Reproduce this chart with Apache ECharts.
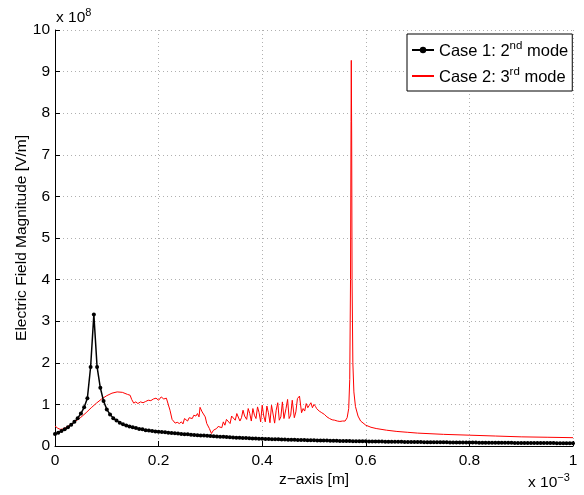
<!DOCTYPE html>
<html>
<head>
<meta charset="utf-8">
<script src="https://cdn.jsdelivr.net/npm/echarts@6/dist/echarts.min.js"></script>
<style>
    html, body { margin: 0; padding: 0; background: #fff; }
    #demoDiv { width: 584px; height: 495px; }
</style>
</head>
<body>
<div id="demoDiv"></div>
<script>
// x 轴单位 1e-3 m，y 轴单位 1e8 V/m
const xTicks = [0, 0.2, 0.4, 0.6, 0.8, 1];
const yTicks = [0, 1, 2, 3, 4, 5, 6, 7, 8, 9, 10];

// Case 1: 等间距采样 (步长 0.00625)
const blackStep = 0.00625;
const blackValues = [
    0.29, 0.32, 0.36, 0.40, 0.45, 0.51, 0.58, 0.67, 0.78, 0.93, 1.15, 1.90, 3.16,
    1.90, 1.40, 1.08, 0.88, 0.76, 0.67, 0.61, 0.56, 0.52, 0.49,
    0.47, 0.45, 0.43, 0.41, 0.40, 0.38, 0.37, 0.36, 0.35, 0.34,
    0.335, 0.33, 0.32, 0.31, 0.305, 0.30, 0.29, 0.285,
    0.28, 0.27, 0.265, 0.26, 0.255, 0.25, 0.245, 0.24,
    0.235, 0.23, 0.225, 0.22, 0.215, 0.21, 0.205, 0.20,
    0.197, 0.193, 0.19, 0.187, 0.183, 0.18, 0.177, 0.174,
    0.171, 0.168, 0.165, 0.163, 0.16, 0.158, 0.155, 0.153,
    0.151, 0.149, 0.147, 0.145, 0.143, 0.141, 0.139, 0.137,
    0.135, 0.133, 0.131, 0.13, 0.128, 0.126, 0.125, 0.123,
    0.122, 0.12, 0.119, 0.117, 0.116, 0.115, 0.113, 0.112,
    0.111, 0.11, 0.108, 0.107, 0.106, 0.105, 0.104, 0.103,
    0.102, 0.101, 0.1, 0.099, 0.098, 0.097, 0.096, 0.095,
    0.094, 0.093, 0.093, 0.092, 0.091, 0.09, 0.09, 0.089,
    0.088, 0.087, 0.087, 0.086, 0.085, 0.085, 0.084, 0.083,
    0.083, 0.082, 0.081, 0.081, 0.08, 0.08, 0.079, 0.078,
    0.078, 0.077, 0.077, 0.076, 0.076, 0.075, 0.075, 0.074,
    0.074, 0.073, 0.073, 0.072, 0.072, 0.071, 0.071, 0.07,
    0.07, 0.07, 0.069, 0.069, 0.068, 0.068, 0.067, 0.067
];

// Case 2: 非等间距
const redZ = [
    0, 0.005, 0.01, 0.015, 0.02, 0.03, 0.04, 0.05, 0.06, 0.07, 0.08, 0.09, 0.1, 0.11, 0.12, 0.13, 0.14,
    0.145, 0.148, 0.152, 0.156, 0.16, 0.165, 0.17, 0.175, 0.18, 0.185, 0.19, 0.195, 0.2, 0.205, 0.21,
    0.215, 0.218, 0.222, 0.226, 0.232, 0.236, 0.24, 0.244, 0.247, 0.25, 0.253, 0.256, 0.259, 0.262,
    0.265, 0.268, 0.272, 0.275, 0.278, 0.28, 0.284,
    0.29, 0.293, 0.298, 0.302, 0.306, 0.309, 0.312, 0.315, 0.318, 0.322, 0.325, 0.328, 0.331, 0.334,
    0.338, 0.341, 0.344, 0.348, 0.351, 0.354,
    0.357, 0.36, 0.363, 0.366, 0.37, 0.373, 0.376, 0.379, 0.382, 0.385, 0.388, 0.391, 0.394, 0.397,
    0.4, 0.403, 0.406, 0.409, 0.412, 0.415, 0.418, 0.421, 0.424, 0.427, 0.43, 0.433, 0.436, 0.439,
    0.442, 0.446, 0.449, 0.452, 0.455, 0.458, 0.462, 0.465, 0.468, 0.472, 0.476, 0.479, 0.482,
    0.485, 0.488, 0.491, 0.494, 0.497, 0.5, 0.503, 0.505, 0.508, 0.51, 0.513, 0.515, 0.518, 0.52,
    0.523, 0.525, 0.528, 0.53, 0.533, 0.535, 0.538, 0.54, 0.543, 0.545, 0.548, 0.55, 0.553, 0.555,
    0.558, 0.56, 0.564, 0.567, 0.569, 0.5705, 0.5715, 0.572,
    0.5727, 0.5735, 0.575, 0.577, 0.58, 0.585, 0.59, 0.6, 0.61, 0.62, 0.64, 0.66, 0.68, 0.7, 0.75,
    0.8, 0.85, 0.9, 0.95, 1.0
];
const redValues = [
    0.48, 0.43, 0.40, 0.41, 0.44, 0.51, 0.60, 0.69, 0.80, 0.92, 1.03, 1.13, 1.21, 1.27, 1.30, 1.29, 1.24,
    1.22, 1.12, 1.03, 1.06, 1.02, 1.06, 1.04, 1.07, 1.10, 1.09, 1.13, 1.15, 1.10, 1.18, 1.13,
    1.15, 1.12, 0.86, 0.64, 0.55, 0.57, 0.54, 0.58, 0.53, 0.66, 0.63, 0.60, 0.68, 0.70,
    0.66, 0.74, 0.72, 0.78, 0.70, 0.93, 0.82,
    0.70, 0.54, 0.42, 0.30, 0.38, 0.34, 0.42, 0.47, 0.50, 0.44, 0.58, 0.50, 0.64, 0.62,
    0.54, 0.72, 0.70, 0.62, 0.78, 0.82,
    0.60, 0.68, 0.86, 0.72, 0.64, 0.90, 0.78, 0.60, 0.90, 0.74, 0.66, 0.94, 0.80, 0.58,
    0.98, 0.72, 0.58, 0.96, 0.80, 0.56, 0.98, 1.02, 0.55, 0.86, 1.04, 0.62, 0.70, 1.06,
    0.66, 0.90, 1.12, 0.66, 0.74, 1.10, 0.68, 0.82, 1.14, 1.20, 0.80, 0.90, 0.84,
    1.02, 0.92, 0.98, 1.04, 0.92, 1.00, 0.95, 0.90, 0.93, 0.84, 0.87, 0.80, 0.82, 0.76,
    0.74, 0.70, 0.72, 0.66, 0.68, 0.63, 0.66, 0.62, 0.64, 0.60, 0.63, 0.59, 0.62, 0.60,
    0.61, 0.60, 0.68, 0.9, 1.6, 4.0, 7.8, 9.27,
    7.5, 4.0, 2.0, 1.3, 0.95, 0.72, 0.60, 0.50, 0.45, 0.42, 0.38, 0.35, 0.33, 0.31, 0.28,
    0.26, 0.24, 0.22, 0.21, 0.20
];

const FONT = 'Liberation Sans, Arial, Helvetica, sans-serif';
const FS = 15.5;

let mychart = null;

// 上标用的富文本样式
const richStyle = {
    n: { fontFamily: FONT, fontSize: FS, color: '#000', lineHeight: 19, verticalAlign: 'bottom' },
    s: { fontFamily: FONT, fontSize: 11, color: '#000', lineHeight: 11, verticalAlign: 'top' }
};
const legendRich = {
    n: { fontFamily: FONT, fontSize: 16.5, color: '#000', lineHeight: 20, verticalAlign: 'bottom' },
    s: { fontFamily: FONT, fontSize: 11.5, color: '#000', lineHeight: 11, verticalAlign: 'top' }
};

const legendText = {
    'Case 1': '{n|Case 1: 2}{s|nd}{n| mode}',
    'Case 2': '{n|Case 2: 3}{s|rd}{n| mode}'
};

const initChart = () => {
    mychart = echarts.init(document.getElementById('demoDiv'), null, { renderer: 'canvas' });

    const blackData = blackValues.map((v, i) => [i * blackStep, v]);
    const redData = redZ.map((z, i) => [z, redValues[i]]);

    mychart.setOption({
        animation: false,
        backgroundColor: '#fff',
        textStyle: { fontFamily: FONT },
        grid: { left: 55, right: 11, top: 30, bottom: 49, containLabel: false },
        legend: {
            orient: 'vertical',
            left: 407,
            top: 34,
            padding: [6, 4, 5, 4],
            itemGap: 6,
            itemWidth: 22,
            itemHeight: 8,
            backgroundColor: '#fff',
            borderColor: '#000',
            borderWidth: 1,
            borderRadius: 0,
            data: [
                { name: 'Case 1' },
                { name: 'Case 2', itemStyle: { opacity: 0 } }
            ],
            formatter: (name) => legendText[name],
            textStyle: { fontFamily: FONT, fontSize: 16.5, color: '#000', rich: legendRich }
        },
        xAxis: {
            type: 'value',
            min: 0,
            max: 1,
            interval: 0.2,
            name: 'z\u2212axis [m]',
            nameLocation: 'middle',
            nameGap: 26,
            nameMoveOverlap: false,
            nameTextStyle: { fontFamily: FONT, fontSize: FS, color: '#000' },
            axisLine: { show: true, onZero: false, lineStyle: { color: '#000', width: 1 } },
            axisTick: { show: true, inside: true, length: 5, lineStyle: { color: '#000' } },
            axisLabel: {
                fontFamily: FONT, fontSize: FS, color: '#000', margin: 7,
                formatter: (v) => (xTicks.includes(Math.round(v * 10) / 10) ? String(Math.round(v * 10) / 10) : '')
            },
            splitLine: { show: true, lineStyle: { color: '#b0b0b0', type: [1, 3], width: 1 } }
        },
        yAxis: {
            type: 'value',
            min: 0,
            max: 10,
            interval: 1,
            name: 'Electric Field Magnitude [V/m]',
            nameLocation: 'middle',
            nameGap: 25,
            nameMoveOverlap: false,
            nameTextStyle: { fontFamily: FONT, fontSize: FS, color: '#000' },
            axisLine: { show: true, lineStyle: { color: '#000', width: 1 } },
            axisTick: { show: true, inside: true, length: 5, lineStyle: { color: '#000' } },
            axisLabel: {
                fontFamily: FONT, fontSize: FS, color: '#000', margin: 5,
                formatter: (v) => (yTicks.includes(v) ? String(v) : '')
            },
            splitLine: { show: true, lineStyle: { color: '#b0b0b0', type: [1, 3], width: 1 } }
        },
        graphic: [
            {
                type: 'text', left: 56, top: 7, silent: true,
                style: { text: '{n|x 10}{s|8}', rich: richStyle }
            },
            {
                type: 'text', left: 528, top: 472, silent: true,
                style: { text: '{n|x 10}{s|\u22123}', rich: richStyle }
            }
        ],
        series: [
            {
                name: 'Case 1',
                type: 'line',
                data: blackData,
                symbol: 'circle',
                symbolSize: 4,
                showSymbol: true,
                lineStyle: { color: '#000', width: 1.5 },
                itemStyle: { color: '#000' },
                z: 3
            },
            {
                name: 'Case 2',
                type: 'line',
                data: redData,
                symbol: 'none',
                lineStyle: { color: '#ff0000', width: 1 },
                itemStyle: { color: '#ff0000' },
                z: 2
            }
        ]
    });
};

initChart();
window.addEventListener('resize', () => {
    if (mychart) {
        mychart.resize();
    }
});
</script>
</body>
</html>
